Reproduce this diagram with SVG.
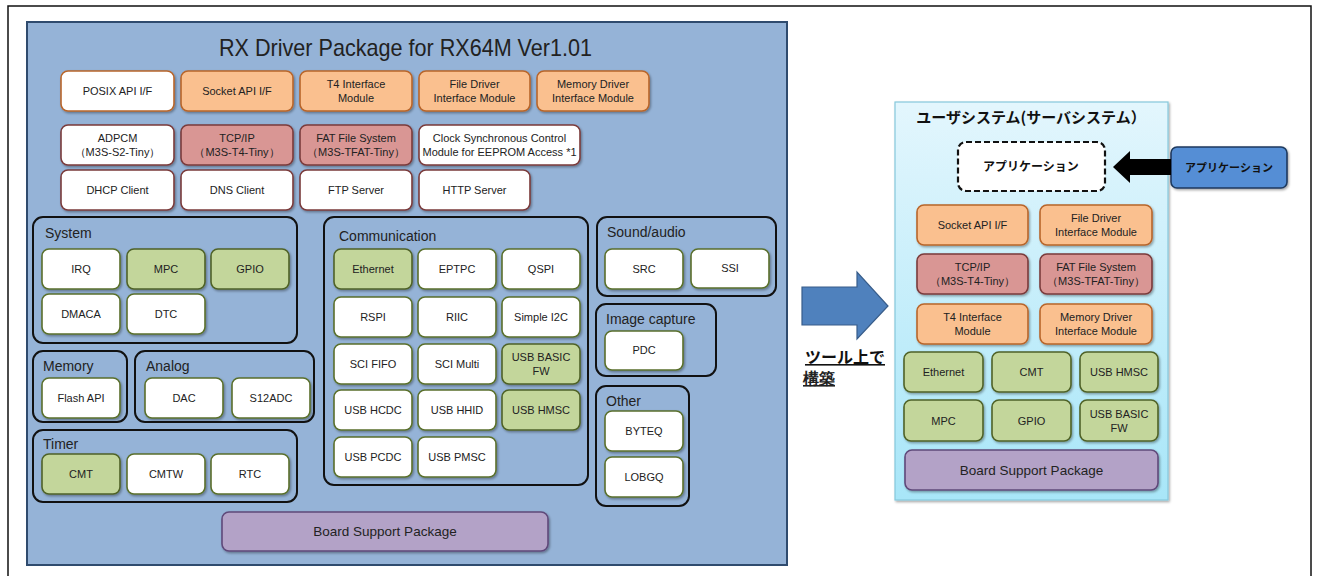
<svg xmlns="http://www.w3.org/2000/svg" width="1317" height="576" viewBox="0 0 1317 576">
<style>
text{font-family:"Liberation Sans",Arial,sans-serif;fill:#222;}
.t{font-size:11px;text-anchor:middle;}
.g{font-size:14px;}
.jp{font-family:"Noto Sans CJK JP",sans-serif;font-weight:bold;text-anchor:middle;fill:#111;}
.b{rx:7;stroke-width:1.6;filter:url(#sh);}
.or{fill:#fac08f;stroke:#b8652a;}
.rd{fill:#d99694;stroke:#7a3b3b;}
.wo{fill:#fff;stroke:#b8652a;}
.wr{fill:#fff;stroke:#7a3b3b;}
.gr{fill:#c3d69b;stroke:#4f6228;}
.wg{fill:#fff;stroke:#5a6f2c;}
.pu{fill:#b3a2c7;stroke:#5f497a;}
.grp{fill:none;stroke:#111;stroke-width:2;rx:10;}
</style>
<defs>
<filter id="sh" x="-10%" y="-10%" width="130%" height="140%">
<feDropShadow dx="1.2" dy="1.5" stdDeviation="1" flood-color="#000" flood-opacity="0.35"/>
</filter>
<linearGradient id="cy" x1="0" y1="0" x2="0" y2="1">
<stop offset="0" stop-color="#e3f6fd"/>
<stop offset="1" stop-color="#a8e6f8"/>
</linearGradient>
</defs>
<rect x="8" y="6" width="1303" height="600" fill="#fff" stroke="#111" stroke-width="1.5"/>

<g id="rdp">
<rect x="27" y="22" width="760" height="543" fill="#95b3d7" stroke="#2f4b6e" stroke-width="2"/>
<text x="405.5" y="56" font-size="24" text-anchor="middle" textLength="373" lengthAdjust="spacingAndGlyphs">RX Driver Package for RX64M Ver1.01</text>
</g>

<g id="posix"><rect class="b wo" x="61" y="71" width="113" height="40"/><text class="t" x="117.5" y="95">POSIX API I/F</text></g>
<g id="socket"><rect class="b or" x="181" y="71" width="112" height="40"/><text class="t" x="237" y="95">Socket API I/F</text></g>
<g id="t4if"><rect class="b or" x="300" y="71" width="112" height="40"/><text class="t" x="356" y="88">T4 Interface</text><text class="t" x="356" y="102">Module</text></g>
<g id="filedrv"><rect class="b or" x="419" y="71" width="111" height="40"/><text class="t" x="474.5" y="88">File Driver</text><text class="t" x="474.5" y="102">Interface Module</text></g>
<g id="memdrv"><rect class="b or" x="537" y="71" width="112" height="40"/><text class="t" x="593" y="88">Memory Driver</text><text class="t" x="593" y="102">Interface Module</text></g>

<g id="adpcm"><rect class="b wr" x="61" y="125" width="113" height="40"/><text class="t" x="117.5" y="142">ADPCM</text><text class="t" x="117.5" y="156">（M3S-S2-Tiny）</text></g>
<g id="tcpip"><rect class="b rd" x="181" y="125" width="112" height="40"/><text class="t" x="237" y="142">TCP/IP</text><text class="t" x="237" y="156">（M3S-T4-Tiny）</text></g>
<g id="fat"><rect class="b rd" x="300" y="125" width="112" height="40"/><text class="t" x="356" y="142">FAT File System</text><text class="t" x="356" y="156">（M3S-TFAT-Tiny）</text></g>
<g id="clock"><rect class="b wr" x="419" y="125" width="161" height="40"/><text class="t" x="499.5" y="142">Clock Synchronous Control</text><text class="t" x="499.5" y="156">Module for EEPROM Access *1</text></g>

<g id="dhcp"><rect class="b wr" x="61" y="170" width="113" height="40"/><text class="t" x="117.5" y="194">DHCP Client</text></g>
<g id="dns"><rect class="b wr" x="181" y="170" width="112" height="40"/><text class="t" x="237" y="194">DNS Client</text></g>
<g id="ftp"><rect class="b wr" x="300" y="170" width="112" height="40"/><text class="t" x="356" y="194">FTP Server</text></g>
<g id="http"><rect class="b wr" x="419" y="170" width="111" height="40"/><text class="t" x="474.5" y="194">HTTP Server</text></g>

<g id="system">
<rect class="grp" x="33" y="217" width="264" height="126"/>
<text class="g" x="45" y="238">System</text>
<rect class="b wg" x="42" y="249" width="78" height="40"/><text class="t" x="81" y="273">IRQ</text>
<rect class="b gr" x="127" y="249" width="78" height="40"/><text class="t" x="166" y="273">MPC</text>
<rect class="b gr" x="211" y="249" width="78" height="40"/><text class="t" x="250" y="273">GPIO</text>
<rect class="b wg" x="42" y="294" width="78" height="40"/><text class="t" x="81" y="318">DMACA</text>
<rect class="b wg" x="127" y="294" width="78" height="40"/><text class="t" x="166" y="318">DTC</text>
</g>

<g id="memory">
<rect class="grp" x="33" y="351" width="94" height="71"/>
<text class="g" x="43" y="371">Memory</text>
<rect class="b wg" x="42" y="378" width="78" height="40"/><text class="t" x="81" y="402">Flash API</text>
</g>

<g id="analog">
<rect class="grp" x="135" y="351" width="179" height="71"/>
<text class="g" x="146" y="371">Analog</text>
<rect class="b wg" x="145" y="378" width="78" height="40"/><text class="t" x="184" y="402">DAC</text>
<rect class="b wg" x="232" y="378" width="78" height="40"/><text class="t" x="271" y="402">S12ADC</text>
</g>

<g id="timer">
<rect class="grp" x="33" y="430" width="264" height="72"/>
<text class="g" x="43" y="449">Timer</text>
<rect class="b gr" x="42" y="454" width="78" height="40"/><text class="t" x="81" y="478">CMT</text>
<rect class="b wg" x="127" y="454" width="78" height="40"/><text class="t" x="166" y="478">CMTW</text>
<rect class="b wg" x="211" y="454" width="78" height="40"/><text class="t" x="250" y="478">RTC</text>
</g>

<g id="communication">
<rect class="grp" x="324" y="217" width="264" height="268"/>
<text class="g" x="339" y="241">Communication</text>
<rect class="b gr" x="334" y="249" width="78" height="40"/><text class="t" x="373" y="273">Ethernet</text>
<rect class="b wg" x="418" y="249" width="78" height="40"/><text class="t" x="457" y="273">EPTPC</text>
<rect class="b wg" x="502" y="249" width="78" height="40"/><text class="t" x="541" y="273">QSPI</text>
<rect class="b wg" x="334" y="297" width="78" height="40"/><text class="t" x="373" y="321">RSPI</text>
<rect class="b wg" x="418" y="297" width="78" height="40"/><text class="t" x="457" y="321">RIIC</text>
<rect class="b wg" x="502" y="297" width="78" height="40"/><text class="t" x="541" y="321">Simple I2C</text>
<rect class="b wg" x="334" y="344" width="78" height="40"/><text class="t" x="373" y="368">SCI FIFO</text>
<rect class="b wg" x="418" y="344" width="78" height="40"/><text class="t" x="457" y="368">SCI Multi</text>
<rect class="b gr" x="502" y="344" width="78" height="40"/><text class="t" x="541" y="361">USB BASIC</text><text class="t" x="541" y="375">FW</text>
<rect class="b wg" x="334" y="390" width="78" height="40"/><text class="t" x="373" y="414">USB HCDC</text>
<rect class="b wg" x="418" y="390" width="78" height="40"/><text class="t" x="457" y="414">USB HHID</text>
<rect class="b gr" x="502" y="390" width="78" height="40"/><text class="t" x="541" y="414">USB HMSC</text>
<rect class="b wg" x="334" y="437" width="78" height="40"/><text class="t" x="373" y="461">USB PCDC</text>
<rect class="b wg" x="418" y="437" width="78" height="40"/><text class="t" x="457" y="461">USB PMSC</text>
</g>

<g id="sound">
<rect class="grp" x="597" y="217" width="179" height="79"/>
<text class="g" x="607" y="237">Sound/audio</text>
<rect class="b wg" x="605" y="249" width="78" height="40"/><text class="t" x="644" y="273">SRC</text>
<rect class="b wg" x="691" y="249" width="78" height="39"/><text class="t" x="730" y="272">SSI</text>
</g>

<g id="image">
<rect class="grp" x="596" y="304" width="120" height="72"/>
<text class="g" x="606" y="324">Image capture</text>
<rect class="b wg" x="605" y="331" width="78" height="39"/><text class="t" x="644" y="354">PDC</text>
</g>

<g id="other">
<rect class="grp" x="596" y="386" width="93" height="120"/>
<text class="g" x="606" y="406">Other</text>
<rect class="b wg" x="605" y="411" width="78" height="40"/><text class="t" x="644" y="435">BYTEQ</text>
<rect class="b wg" x="605" y="457" width="78" height="40"/><text class="t" x="644" y="481">LOBGQ</text>
</g>

<g id="bsp"><rect class="b pu" x="222" y="512" width="326" height="39"/><text x="385" y="536" font-size="13.5" text-anchor="middle">Board Support Package</text></g>

<g id="buildlabel">
<text class="jp" x="845" y="363" font-size="16" text-decoration="underline">ツール上で</text>
<text x="803" y="384" font-size="16" font-family="Noto Sans CJK JP,sans-serif" font-weight="bold" text-decoration="underline" fill="#111">構築</text>
</g>

<g id="usersys">
<rect x="895" y="102" width="273" height="398" fill="url(#cy)" stroke="#86c9dc" stroke-width="1.2" filter="url(#sh)"/>
<text class="jp" x="1031" y="123" font-size="15">ユーザシステム(サーバシステム）</text>
</g>

<g id="appdash"><rect x="958" y="142" width="147" height="49" rx="8" fill="#fff" stroke="#111" stroke-width="2.2" stroke-dasharray="6,3"/><text class="jp" x="1031" y="171" font-size="12">アプリケーション</text></g>
<g id="appblue"><rect x="1171" y="147" width="116" height="41" rx="6" fill="#558ed5" stroke="#1f3a5f" stroke-width="1.6" filter="url(#sh)"/><text class="jp" x="1229" y="172" font-size="11">アプリケーション</text></g>

<g id="r-socket"><rect class="b or" x="917" y="205" width="111" height="40"/><text class="t" x="972.5" y="229">Socket API I/F</text></g>
<g id="r-filedrv"><rect class="b or" x="1040" y="205" width="112" height="40"/><text class="t" x="1096" y="222">File Driver</text><text class="t" x="1096" y="236">Interface Module</text></g>
<g id="r-tcpip"><rect class="b rd" x="917" y="254" width="111" height="40"/><text class="t" x="972.5" y="271">TCP/IP</text><text class="t" x="972.5" y="285">（M3S-T4-Tiny）</text></g>
<g id="r-fat"><rect class="b rd" x="1040" y="254" width="112" height="40"/><text class="t" x="1096" y="271">FAT File System</text><text class="t" x="1096" y="285">（M3S-TFAT-Tiny）</text></g>
<g id="r-t4if"><rect class="b or" x="917" y="304" width="111" height="40"/><text class="t" x="972.5" y="321">T4 Interface</text><text class="t" x="972.5" y="335">Module</text></g>
<g id="r-memdrv"><rect class="b or" x="1040" y="304" width="112" height="40"/><text class="t" x="1096" y="321">Memory Driver</text><text class="t" x="1096" y="335">Interface Module</text></g>

<g id="r-ethernet"><rect class="b gr" x="904" y="352" width="79" height="40"/><text class="t" x="943.5" y="376">Ethernet</text></g>
<g id="r-cmt"><rect class="b gr" x="992" y="352" width="79" height="40"/><text class="t" x="1031.5" y="376">CMT</text></g>
<g id="r-usbhmsc"><rect class="b gr" x="1080" y="352" width="78" height="40"/><text class="t" x="1119" y="376">USB HMSC</text></g>
<g id="r-mpc"><rect class="b gr" x="904" y="400" width="79" height="41"/><text class="t" x="943.5" y="424.5">MPC</text></g>
<g id="r-gpio"><rect class="b gr" x="992" y="400" width="79" height="41"/><text class="t" x="1031.5" y="424.5">GPIO</text></g>
<g id="r-usbbasic"><rect class="b gr" x="1080" y="400" width="78" height="41"/><text class="t" x="1119" y="417.5">USB BASIC</text><text class="t" x="1119" y="431.5">FW</text></g>
<g id="r-bsp"><rect class="b pu" x="905" y="450" width="253" height="40"/><text x="1031.5" y="474.5" font-size="13.5" text-anchor="middle">Board Support Package</text></g>

<g id="connectors">
<polygon points="802,287 857,287 857,272 888,306 857,339 857,325 802,325" fill="#4f81bd" stroke="#385d8a" stroke-width="1.2"/>
<polygon points="1113,167 1130,151 1130,159 1171,159 1171,175 1130,175 1130,183" fill="#000"/>
</g>
</svg>
